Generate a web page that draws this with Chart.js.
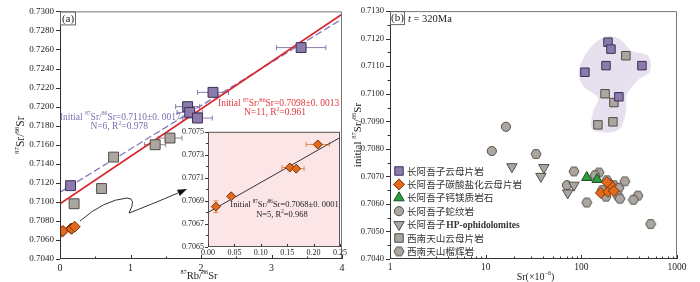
<!DOCTYPE html>
<html lang="zh"><head><meta charset="utf-8"><title>Sr isotopes</title>
<script src="https://cdn.jsdelivr.net/npm/chart.js@4.4.1/dist/chart.umd.min.js"></script>
<style>
html,body{margin:0;padding:0;background:#fff;overflow:hidden}
#wrap{position:relative;width:700px;height:282px;background:#fff}
canvas{position:absolute;display:block}
</style></head><body>
<div id="wrap">
<canvas id="ca" width="350" height="282" style="left:0;top:0"></canvas>
<canvas id="ci" width="187" height="137" style="left:163px;top:123px"></canvas>
<canvas id="cb" width="350" height="282" style="left:350px;top:0"></canvas>
</div>
<script>
// ================= DATA: panel (a) 87Rb/86Sr vs 87Sr/86Sr =================
const rbPurple  = [0.15, 1.81, 1.84, 1.95, 2.17, 3.42];
const srPurple  = [0.7117, 0.7200, 0.7194, 0.7188, 0.7215, 0.7262];
const errPurple = [0, 0.17, 0.18, 0.21, 0.22, 0.35];

const rbGrey  = [0.20, 0.59, 0.76, 1.35, 1.56];
const srGrey  = [0.7098, 0.7114, 0.7147, 0.7160, 0.7167];
const errGrey = [0, 0, 0, 0.15, 0.17];

const rbOrange   = [0.015, 0.044, 0.155, 0.167, 0.208];
const srOrange   = [0.70685, 0.70694, 0.70719, 0.70718, 0.70739];
const errOrangeX = [0, 0, 0.015, 0.015, 0.022];
const errOrangeY = [0.00005, 0, 0, 0, 0];

const lineAllX  = [0, 4];    const lineAllY  = [0.7098, 0.7297];
const lineMicaX = [0, 4];    const lineMicaY = [0.7110, 0.7292];
const lineCarbX = [0, 0.25]; const lineCarbY = [0.7068, 0.70745];

const aXTicks = [0, 1, 2, 3, 4];
const aXMinor = [0.5, 1.5, 2.5, 3.5];
const aYTicks = [0.7040,0.7060,0.7080,0.7100,0.7120,0.7140,0.7160,0.7180,0.7200,0.7220,0.7240,0.7260,0.7280,0.7300];
const iXTicks = [0, 0.05, 0.10, 0.15, 0.20, 0.25];
const iYTicks = [0.7065, 0.7067, 0.7069, 0.7071, 0.7073, 0.7075];
const iYMinor = [0.7066, 0.7068, 0.7070, 0.7072, 0.7074];

// ================= DATA: panel (b) Sr vs initial 87Sr/86Sr =================
const bSrPurple = [190, 204, 181, 109, 430, 247];
const bInPurple = [0.71187, 0.71162, 0.71102, 0.71078, 0.71102, 0.70989];
const bSrGreySq = [292, 177, 219, 149, 214];
const bInGreySq = [0.71138, 0.71000, 0.70968, 0.70887, 0.70898];
const bSrOrange = [160, 190, 204, 185, 219];
const bInOrange = [0.70640, 0.70644, 0.70668, 0.70679, 0.70647];
const bSrGreen  = [114, 146];
const bInGreen  = [0.70696, 0.70689];
const bSrCircle = [16.3, 11.6, 70.8];
const bInCircle = [0.70880, 0.70792, 0.70668];
const bSrTri    = [18.8, 40.6, 37.8, 83.7, 72];
const bInTri    = [0.70735, 0.70732, 0.70700, 0.70668, 0.70640];
const bSrHex    = [33.6, 83.7, 114, 153, 139, 185, 219, 247, 285, 240, 253, 390, 350, 530, 181, 165];
const bInHex    = [0.70781, 0.70718, 0.70605, 0.70714, 0.70704, 0.70686, 0.70668, 0.70658, 0.70682, 0.70630, 0.70619, 0.70630, 0.70615, 0.70527, 0.70626, 0.70650];
const blobSr = [181, 253, 338, 497, 521, 390, 299, 292, 253, 177, 129, 132, 149, 106, 94, 123];
const blobIn = [0.71208, 0.71198, 0.71155, 0.71138, 0.71081, 0.71049, 0.70996, 0.70933, 0.70873, 0.70859, 0.70876, 0.70933, 0.70986, 0.71025, 0.71085, 0.71166];

const bXTicks = [1, 10, 100, 1000];
const bXMinor = [2,3,4,5,6,7,8,9,20,30,40,50,60,70,80,90,200,300,400,500,600,700,800,900];
const bYTicks = [0.7040,0.7050,0.7060,0.7070,0.7080,0.7090,0.7100,0.7110,0.7120,0.7130];
const bYMinor = [0.7045,0.7055,0.7065,0.7075,0.7085,0.7095,0.7105,0.7115,0.7125];

const legendLabels = ['长阿吾子云母片岩','长阿吾子碳酸盐化云母片岩','长阿吾子钙镁质岩石','长阿吾子蛇纹岩','长阿吾子HP-ophidolomites','西南天山云母片岩','西南天山榴辉岩'];

// ================= STYLE =================
const SERIF = '"Liberation Serif","Times New Roman",serif';
const CJK = '"Noto Sans CJK SC","Noto Sans CJK JP",sans-serif';
const C = {
  purple:'#8b7aad', purpleB:'#3c3152', grey:'#aca6a1', greyB:'#524d49',
  orange:'#e2691d', orangeB:'#7a3306', green:'#2e9e3d', greenB:'#1b4a20',
  red:'#d9262b', dashed:'#8576b8', txtPurple:'#7c6dad', txtRed:'#e0383c',
  axis:'#333', frame:'#777', pink:'#fbe5e7', blob:'#e7e0ef', text:'#222'
};
Chart.defaults.font.family = SERIF;
Chart.defaults.color = C.text;

const pts = (xs, ys) => xs.map((x, i) => ({x: x, y: ys[i]}));

function makeHex(d, fill, stroke){
  const c = document.createElement('canvas'); c.width = d + 2; c.height = d + 2;
  const g = c.getContext('2d'); const r = d / 2, cx = (d + 2) / 2, cy = (d + 2) / 2;
  g.beginPath();
  for (let i = 0; i < 6; i++){ const a = Math.PI / 3 * i; const px = cx + r * Math.cos(a), py = cy + r * Math.sin(a); i ? g.lineTo(px, py) : g.moveTo(px, py); }
  g.closePath(); g.fillStyle = fill; g.fill(); g.strokeStyle = stroke; g.lineWidth = 1; g.stroke();
  return c;
}
const hexImg = makeHex(10, C.grey, C.greyB);

function drawRich(ctx, parts, x, y, size, color, align, opts){
  opts = opts || {};
  const fam = opts.family || SERIF, wt = opts.weight || 'normal';
  ctx.save(); ctx.fillStyle = color; ctx.textBaseline = 'middle'; ctx.textAlign = 'left';
  const f = k => (k === 2 ? 'italic ' : '') + wt + ' ' + (k === 1 ? size * 0.6 : size) + 'px ' + fam;
  let w = 0; parts.forEach(([t, k]) => { ctx.font = f(k); w += ctx.measureText(t).width; });
  let cx = align === 'center' ? x - w / 2 : align === 'right' ? x - w : x;
  parts.forEach(([t, k]) => { ctx.font = f(k); ctx.fillText(t, cx, k === 1 ? y - size * 0.33 : y); cx += ctx.measureText(t).width; });
  ctx.restore();
  return w;
}

function frame(ctx, a){
  ctx.save(); ctx.lineWidth = 1;
  ctx.strokeStyle = C.frame; ctx.beginPath();
  ctx.moveTo(a.left, a.top + 0.5); ctx.lineTo(a.right - 0.5, a.top + 0.5); ctx.lineTo(a.right - 0.5, a.bottom); ctx.stroke();
  ctx.strokeStyle = C.axis; ctx.beginPath();
  ctx.moveTo(a.left + 0.5, a.top); ctx.lineTo(a.left + 0.5, a.bottom - 0.5); ctx.lineTo(a.right, a.bottom - 0.5); ctx.stroke();
  ctx.restore();
}
function tickMarks(chart, xMaj, xMin, yMaj, yMin, lenMaj, lenMin){
  const ctx = chart.ctx, a = chart.chartArea, sx = chart.scales.x, sy = chart.scales.y;
  ctx.save(); ctx.strokeStyle = C.axis; ctx.lineWidth = 1; ctx.beginPath();
  const xt = (v, L) => { const p = Math.round(sx.getPixelForValue(v)) + 0.5; ctx.moveTo(p, a.bottom); ctx.lineTo(p, a.bottom - L); };
  const yt = (v, L) => { const p = Math.round(sy.getPixelForValue(v)) + 0.5; ctx.moveTo(a.left, p); ctx.lineTo(a.left - L, p); };
  xMaj.forEach(v => xt(v, lenMaj)); xMin.forEach(v => xt(v, lenMin));
  yMaj.forEach(v => yt(v, lenMaj)); yMin.forEach(v => yt(v, lenMin));
  ctx.stroke(); ctx.restore();
}
function labelBox(ctx, x, y, w, h, txt){
  ctx.save(); ctx.strokeStyle = '#666'; ctx.lineWidth = 1; ctx.strokeRect(x + 0.5, y + 0.5, w, h);
  ctx.fillStyle = '#222'; ctx.font = '11px ' + SERIF; ctx.textAlign = 'center'; ctx.textBaseline = 'middle';
  ctx.fillText(txt, x + w / 2 + 0.5, y + h / 2 + 1); ctx.restore();
}

const errorBars = {
  id: 'errorBars',
  beforeDatasetsDraw(chart){
    const ctx = chart.ctx, sx = chart.scales.x, sy = chart.scales.y;
    chart.data.datasets.forEach(ds => {
      if (!ds.errX && !ds.errY) return;
      ctx.save(); ctx.strokeStyle = ds.errColor; ctx.lineWidth = 1; ctx.beginPath();
      ds.data.forEach((p, i) => {
        const px = sx.getPixelForValue(p.x), py = sy.getPixelForValue(p.y);
        const ex = ds.errX ? ds.errX[i] : 0, ey = ds.errY ? ds.errY[i] : 0;
        if (ex > 0){ const x1 = sx.getPixelForValue(p.x - ex), x2 = sx.getPixelForValue(p.x + ex);
          ctx.moveTo(x1, py); ctx.lineTo(x2, py); ctx.moveTo(x1, py - 2.5); ctx.lineTo(x1, py + 2.5); ctx.moveTo(x2, py - 2.5); ctx.lineTo(x2, py + 2.5); }
        if (ey > 0){ const y1 = sy.getPixelForValue(p.y - ey), y2 = sy.getPixelForValue(p.y + ey);
          ctx.moveTo(px, y1); ctx.lineTo(px, y2); ctx.moveTo(px - 2.5, y1); ctx.lineTo(px + 2.5, y1); ctx.moveTo(px - 2.5, y2); ctx.lineTo(px + 2.5, y2); }
      });
      ctx.stroke(); ctx.restore();
    });
  }
};

const baseOpts = {
  responsive: false, animation: false, devicePixelRatio: 1, events: [],
  plugins: { legend: { display: false }, tooltip: { enabled: false } }
};
const tickFont = s => ({ family: SERIF, size: s });

// ================= PANEL (a) =================
const decorA = {
  id: 'decorA',
  afterDraw(chart){
    const ctx = chart.ctx, a = chart.chartArea, sx = chart.scales.x, sy = chart.scales.y;
    frame(ctx, a);
    tickMarks(chart, aXTicks, aXMinor, aYTicks, [], 4, 2.5);
    labelBox(ctx, a.left, a.top, 15, 13, '(a)');
    const X = v => sx.getPixelForValue(v), Y = v => sy.getPixelForValue(v);
    drawRich(ctx, [['Initial ',0],['87',1],['Sr/',0],['86',1],['Sr=0.7110±0. 0017',0]], X(0.855), Y(0.71890), 9.5, C.txtPurple, 'center');
    drawRich(ctx, [['N=6, R',0],['2',1],['=0.978',0]], X(0.84), Y(0.71788), 9.5, C.txtPurple, 'center');
    drawRich(ctx, [['Initial ',0],['87',1],['Sr/',0],['86',1],['Sr=0.7098±0. 0013',0]], X(3.10), Y(0.72031), 9.5, C.txtRed, 'center');
    drawRich(ctx, [['N=11, R',0],['2',1],['=0.961',0]], X(3.05), Y(0.71939), 9.5, C.txtRed, 'center');
    // axis titles
    drawRich(ctx, [['87',1],['Rb/',0],['86',1],['Sr',0]], 199, 276, 10.5, C.text, 'center');
    ctx.save(); ctx.translate(21, (a.top + a.bottom) / 2); ctx.rotate(-Math.PI / 2);
    drawRich(ctx, [['87',1],['Sr/',0],['86',1],['Sr',0]], 0, 0, 11.5, C.text, 'center');
    ctx.restore();
    // curved arrow to the inset
    ctx.save(); ctx.strokeStyle = '#333'; ctx.lineWidth = 1; ctx.beginPath();
    ctx.moveTo(80, 221);
    ctx.quadraticCurveTo(104, 200, 127, 198);
    ctx.quadraticCurveTo(137, 198, 129, 213);
    ctx.quadraticCurveTo(150, 205, 178, 193);
    ctx.stroke();
    const tx = 187, ty = 189, ang = Math.atan2(193 - 189, 178 - 187);
    ctx.fillStyle = '#111'; ctx.beginPath(); ctx.moveTo(tx, ty);
    ctx.lineTo(tx + 10 * Math.cos(ang + 0.35), ty + 10 * Math.sin(ang + 0.35));
    ctx.lineTo(tx + 10 * Math.cos(ang - 0.35), ty + 10 * Math.sin(ang - 0.35));
    ctx.closePath(); ctx.fill(); ctx.restore();
  }
};

new Chart(document.getElementById('ca'), {
  type: 'scatter',
  data: { datasets: [
    { label: '长阿吾子碳酸盐化云母片岩', data: pts(rbOrange, srOrange), pointStyle: 'rectRot', pointRadius: 5.5, backgroundColor: C.orange, borderColor: C.orangeB, borderWidth: 1 },
    { label: '长阿吾子云母片岩', data: pts(rbPurple, srPurple), pointStyle: 'rect', pointRadius: 7, backgroundColor: C.purple, borderColor: C.purpleB, borderWidth: 1, errX: errPurple, errColor: C.purple },
    { label: '西南天山云母片岩', data: pts(rbGrey, srGrey), pointStyle: 'rect', pointRadius: 7, backgroundColor: C.grey, borderColor: C.greyB, borderWidth: 1, errX: errGrey, errColor: '#8f8a86' },
    { label: 'isochron all', data: pts(lineAllX, lineAllY), showLine: true, pointRadius: 0, borderColor: C.red, borderWidth: 1.7, fill: false },
    { label: 'isochron mica', data: pts(lineMicaX, lineMicaY), showLine: true, pointRadius: 0, borderColor: C.dashed, borderWidth: 1.3, borderDash: [7, 3], fill: false }
  ]},
  options: Object.assign({}, baseOpts, {
    layout: { padding: { left: 0, top: 4, right: 5, bottom: 0 } },
    scales: {
      x: { type: 'linear', min: 0, max: 4, grid: { display: false, drawTicks: false }, border: { display: false },
           afterBuildTicks: s => { s.ticks = aXTicks.map(v => ({ value: v })); },
           ticks: { padding: 3, font: tickFont(10), maxRotation: 0, autoSkip: false, callback: v => String(v) },
           afterFit: s => { s.height = 23; } },
      y: { type: 'linear', min: 0.704, max: 0.730, grid: { display: false, drawTicks: false }, border: { display: false },
           afterBuildTicks: s => { s.ticks = aYTicks.map(v => ({ value: v })); },
           ticks: { padding: 6, font: tickFont(9), autoSkip: false, callback: v => Number(v).toFixed(4) },
           afterFit: s => { s.width = 60; } }
    }
  }),
  plugins: [errorBars, decorA]
});

// ================= INSET =================
const decorI = {
  id: 'decorI',
  beforeDatasetsDraw(chart){
    const ctx = chart.ctx, a = chart.chartArea;
    ctx.save(); ctx.fillStyle = C.pink; ctx.fillRect(a.left, a.top, a.right - a.left, a.bottom - a.top); ctx.restore();
  },
  afterDraw(chart){
    const ctx = chart.ctx, a = chart.chartArea, sx = chart.scales.x, sy = chart.scales.y;
    ctx.save(); ctx.strokeStyle = '#555'; ctx.lineWidth = 1; ctx.strokeRect(a.left + 0.5, a.top + 0.5, a.right - a.left - 1, a.bottom - a.top - 1); ctx.restore();
    tickMarks(chart, iXTicks, [], iYTicks, iYMinor, 3, 2);
    drawRich(ctx, [['Initial ',0],['87',1],['Sr/',0],['86',1],['Sr=0.7068±0. 0001',0]], sx.getPixelForValue(0.145), sy.getPixelForValue(0.70687), 8.5, '#222', 'center');
    drawRich(ctx, [['N=5, R',0],['2',1],['=0.968',0]], sx.getPixelForValue(0.140), sy.getPixelForValue(0.70678), 8.5, '#222', 'center');
  }
};
new Chart(document.getElementById('ci'), {
  type: 'scatter',
  data: { datasets: [
    { label: '长阿吾子碳酸盐化云母片岩', data: pts(rbOrange, srOrange), pointStyle: 'rectRot', pointRadius: 4.5, backgroundColor: C.orange, borderColor: C.orangeB, borderWidth: 1, errX: errOrangeX, errY: errOrangeY, errColor: '#e98a4a' },
    { label: 'isochron carbonated', data: pts(lineCarbX, lineCarbY), showLine: true, pointRadius: 0, borderColor: '#333', borderWidth: 1, fill: false }
  ]},
  options: Object.assign({}, baseOpts, {
    layout: { padding: { left: 0, top: 8, right: 10, bottom: 0 } },
    scales: {
      x: { type: 'linear', min: 0, max: 0.25, grid: { display: false, drawTicks: false }, border: { display: false },
           afterBuildTicks: s => { s.ticks = iXTicks.map(v => ({ value: v })); },
           ticks: { padding: 1, font: tickFont(8), maxRotation: 0, autoSkip: false, callback: v => Number(v).toFixed(2) },
           afterFit: s => { s.height = 13; } },
      y: { type: 'linear', min: 0.7065, max: 0.7075, grid: { display: false, drawTicks: false }, border: { display: false },
           afterBuildTicks: s => { s.ticks = iYTicks.map(v => ({ value: v })); },
           ticks: { padding: 4, font: tickFont(8), autoSkip: false, callback: v => Number(v).toFixed(4) },
           afterFit: s => { s.width = 45; } }
    }
  }),
  plugins: [decorI, errorBars]
});

// ================= PANEL (b) =================
function closedSpline(ctx, P){
  const n = P.length; ctx.beginPath(); ctx.moveTo(P[0].x, P[0].y);
  for (let i = 0; i < n; i++){
    const p0 = P[(i - 1 + n) % n], p1 = P[i], p2 = P[(i + 1) % n], p3 = P[(i + 2) % n];
    ctx.bezierCurveTo(p1.x + (p2.x - p0.x) / 6, p1.y + (p2.y - p0.y) / 6, p2.x - (p3.x - p1.x) / 6, p2.y - (p3.y - p1.y) / 6, p2.x, p2.y);
  }
  ctx.closePath();
}
const legendStyle = {
  '长阿吾子云母片岩': { pointStyle: 'rect', radius: 6, fill: C.purple, stroke: C.purpleB },
  '长阿吾子碳酸盐化云母片岩': { pointStyle: 'rectRot', radius: 5.5, fill: C.orange, stroke: C.orangeB },
  '长阿吾子钙镁质岩石': { pointStyle: 'triangle', radius: 6, fill: C.green, stroke: C.greenB },
  '长阿吾子蛇纹岩': { pointStyle: 'circle', radius: 4.6, fill: C.grey, stroke: C.greyB },
  '长阿吾子HP-ophidolomites': { pointStyle: 'triangle', rotation: 180, radius: 6, fill: C.grey, stroke: C.greyB },
  '西南天山云母片岩': { pointStyle: 'rect', radius: 6, fill: C.grey, stroke: C.greyB },
  '西南天山榴辉岩': { pointStyle: hexImg, radius: 5, fill: C.grey, stroke: C.greyB }
};
const decorB = {
  id: 'decorB',
  beforeDatasetsDraw(chart){
    const ctx = chart.ctx, sx = chart.scales.x, sy = chart.scales.y;
    const P = blobSr.map((s, i) => ({ x: sx.getPixelForValue(s), y: sy.getPixelForValue(blobIn[i]) }));
    ctx.save(); closedSpline(ctx, P); ctx.fillStyle = C.blob; ctx.fill(); ctx.restore();
  },
  afterDraw(chart){
    const ctx = chart.ctx, a = chart.chartArea;
    frame(ctx, a);
    tickMarks(chart, bXTicks, bXMinor, bYTicks, bYMinor, 4, 2.5);
    labelBox(ctx, a.left, a.top, 14, 13, '(b)');
    drawRich(ctx, [['t',2],[' = 320Ma',0]], a.left + 18, a.top + 8, 10.5, '#222', 'left');
    // titles
    drawRich(ctx, [['Sr(×10',0],['−6',1],[')',0]], (a.left + a.right) / 2 + 2, 277, 10, C.text, 'center');
    ctx.save(); ctx.translate(8, (a.top + a.bottom) / 2); ctx.rotate(-Math.PI / 2);
    drawRich(ctx, [['initial ',0],['87',1],['Sr/',0],['86',1],['Sr',0]], 0, 0, 11, C.text, 'center');
    ctx.restore();
    // legend
    const x0 = a.left + 9, tx = a.left + 17; let y = 171;
    legendLabels.forEach(lbl => {
      const st = legendStyle[lbl];
      ctx.save(); ctx.fillStyle = st.fill; ctx.strokeStyle = st.stroke; ctx.lineWidth = 1;
      Chart.helpers.drawPoint(ctx, { pointStyle: st.pointStyle, radius: st.radius, rotation: st.rotation || 0, borderWidth: 1 }, x0, y);
      ctx.restore();
      const m = lbl.match(/^([^A-Za-z]+)([A-Za-z].*)?$/);
      ctx.save(); ctx.fillStyle = '#333'; ctx.textBaseline = 'middle'; ctx.textAlign = 'left';
      ctx.font = '9.6px ' + CJK; ctx.fillText(m[1], tx, y);
      if (m[2]){ const w = ctx.measureText(m[1]).width; ctx.font = 'bold 9.5px ' + SERIF; ctx.fillText(m[2], tx + w + 1, y + 0.5); }
      ctx.restore();
      y += 13.4;
    });
  }
};
new Chart(document.getElementById('cb'), {
  type: 'scatter',
  data: { datasets: [
    { label: '长阿吾子碳酸盐化云母片岩', order: 0, data: pts(bSrOrange, bInOrange), pointStyle: 'rectRot', pointRadius: 5.5, backgroundColor: C.orange, borderColor: C.orangeB, borderWidth: 1 },
    { label: '长阿吾子钙镁质岩石', order: 1, data: pts(bSrGreen, bInGreen), pointStyle: 'triangle', pointRadius: 6, backgroundColor: C.green, borderColor: C.greenB, borderWidth: 1 },
    { label: '长阿吾子云母片岩', order: 2, data: pts(bSrPurple, bInPurple), pointStyle: 'rect', pointRadius: 6, backgroundColor: C.purple, borderColor: C.purpleB, borderWidth: 1 },
    { label: '西南天山云母片岩', order: 3, data: pts(bSrGreySq, bInGreySq), pointStyle: 'rect', pointRadius: 6, backgroundColor: C.grey, borderColor: C.greyB, borderWidth: 1 },
    { label: '长阿吾子HP-ophidolomites', order: 4, data: pts(bSrTri, bInTri), pointStyle: 'triangle', rotation: 180, pointRadius: 6, backgroundColor: C.grey, borderColor: C.greyB, borderWidth: 1 },
    { label: '长阿吾子蛇纹岩', order: 5, data: pts(bSrCircle, bInCircle), pointStyle: 'circle', pointRadius: 4.6, backgroundColor: C.grey, borderColor: C.greyB, borderWidth: 1 },
    { label: '西南天山榴辉岩', order: 6, data: pts(bSrHex, bInHex), pointStyle: hexImg, pointRadius: 5, backgroundColor: C.grey, borderColor: C.greyB, borderWidth: 1 }
  ]},
  options: Object.assign({}, baseOpts, {
    layout: { padding: { left: 0, top: 4, right: 23, bottom: 0 } },
    scales: {
      x: { type: 'logarithmic', min: 1, max: 1000, grid: { display: false, drawTicks: false }, border: { display: false },
           afterBuildTicks: s => { s.ticks = bXTicks.map(v => ({ value: v, major: true })); },
           ticks: { padding: 3, font: tickFont(9.5), maxRotation: 0, autoSkip: false, callback: v => String(v) },
           afterFit: s => { s.height = 23; } },
      y: { type: 'linear', min: 0.704, max: 0.713, grid: { display: false, drawTicks: false }, border: { display: false },
           afterBuildTicks: s => { s.ticks = bYTicks.map(v => ({ value: v })); },
           ticks: { padding: 6, font: tickFont(8.5), autoSkip: false, callback: v => Number(v).toFixed(4) },
           afterFit: s => { s.width = 40; } }
    }
  }),
  plugins: [decorB]
});
</script>
</body></html>
